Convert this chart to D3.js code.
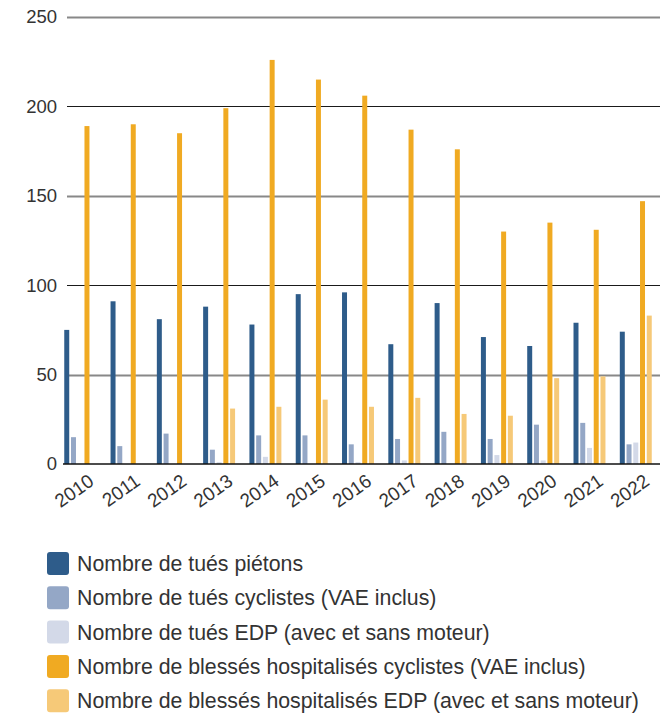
<!DOCTYPE html>
<html>
<head>
<meta charset="utf-8">
<script src="https://cdn.jsdelivr.net/npm/d3@7"></script>
<style>
  body { margin: 0; background: #fff; }
  svg text { font-family: "Liberation Sans", Arial, sans-serif; fill: #333; }
</style>
</head>
<body>
<svg></svg>
<script>
var WIDTH = 670;
var HEIGHT = 713;

// data
var years = ['2010','2011','2012','2013','2014','2015','2016','2017','2018','2019','2020','2021','2022'];
var tuesPietons   = [75, 91, 81, 88, 78, 95, 96, 67, 90, 71, 66, 79, 74];
var tuesCyclistes = [15, 10, 17, 8, 16, 16, 11, 14, 18, 14, 22, 23, 11];
var tuesEDP       = [0, 0, 0, 1, 4, 0, 1, 2, 0, 5, 2, 9, 12];
var blessesCyclistes = [189, 190, 185, 199, 226, 215, 206, 187, 176, 130, 135, 131, 147];
var blessesEDP    = [0, 0, 0, 31, 32, 36, 32, 37, 28, 27, 48, 49, 83];
var yTicks = [0, 50, 100, 150, 200, 250];

var seriesNames = [
  'Nombre de tués piétons',
  'Nombre de tués cyclistes (VAE inclus)',
  'Nombre de tués EDP (avec et sans moteur)',
  'Nombre de blessés hospitalisés cyclistes (VAE inclus)',
  'Nombre de blessés hospitalisés EDP (avec et sans moteur)'
];
var seriesColors = ['#2e5c8a', '#94a7c6', '#d3d9e8', '#f0aa22', '#f6c978'];
var seriesValues = [tuesPietons, tuesCyclistes, tuesEDP, blessesCyclistes, blessesEDP];

var svg = d3.select('svg')
  .attr('width', WIDTH)
  .attr('height', HEIGHT);

var yScale = d3.scaleLinear().domain([0, 250]).range([464, 17]);
var xScale = d3.scaleBand().domain(years).range([58, 658])
  .paddingInner(0.31).paddingOuter(0.135);
var x1 = d3.scaleBand().domain(d3.range(seriesNames.length))
  .range([0, xScale.bandwidth()]).paddingInner(0.26);

// grid lines
var grid = svg.append('g').attr('id', 'grid');
grid.selectAll('line')
  .data(yTicks.filter(function(d){ return d > 0; }))
  .enter()
  .append('line')
  .attr('x1', 67)
  .attr('x2', 660)
  .attr('y1', function(d){ return Math.round(yScale(d)) + 0.5; })
  .attr('y2', function(d){ return Math.round(yScale(d)) + 0.5; })
  .attr('stroke', function(d){ return (d / 50) % 2 === 1 ? '#888' : '#1a1a1a'; })
  .attr('stroke-width', function(d){ return (d / 50) % 2 === 1 ? 2 : 1; });

// y axis labels
var leftAxis = d3.axisLeft(yScale).tickValues(yTicks).tickSize(0).tickPadding(0);
var yAxis = svg.append('g')
  .attr('id', 'y-axis')
  .attr('transform', 'translate(57,0)')
  .call(leftAxis);
yAxis.select('.domain').remove();
yAxis.selectAll('text')
  .style('font-size', '18.5px')
  .attr('fill', '#333');

// bars
var groups = svg.append('g').attr('id', 'bars')
  .selectAll('g')
  .data(years)
  .enter()
  .append('g')
  .attr('transform', function(d){ return 'translate(' + xScale(d) + ',0)'; });

groups.selectAll('rect')
  .data(function(d, i){
    return seriesValues.map(function(vals, s){ return { s: s, v: vals[i] }; });
  })
  .enter()
  .append('rect')
  .attr('x', function(d){ return x1(d.s); })
  .attr('width', x1.bandwidth())
  .attr('y', function(d){ return yScale(d.v); })
  .attr('height', function(d){ return yScale(0) - yScale(d.v); })
  .attr('fill', function(d){ return seriesColors[d.s]; });

// baseline
svg.append('line')
  .attr('x1', 63).attr('x2', 660)
  .attr('y1', yScale(0)).attr('y2', yScale(0))
  .attr('stroke', '#111')
  .attr('stroke-width', 1.5);

// x axis labels
var botAxis = d3.axisBottom(xScale).tickSize(0);
var xAxis = svg.append('g')
  .attr('id', 'x-axis')
  .attr('transform', 'translate(0,' + yScale(0) + ')')
  .call(botAxis);
xAxis.select('.domain').remove();
xAxis.selectAll('text')
  .style('font-size', '19px')
  .attr('fill', '#333')
  .attr('text-anchor', 'end')
  .attr('y', 0)
  .attr('dy', 0)
  .attr('transform', 'translate(15,20) rotate(-35)');

// legend
var legend = svg.append('g').attr('id', 'legend')
  .attr('transform', 'translate(47,552)');
var items = legend.selectAll('g')
  .data(seriesNames)
  .enter()
  .append('g')
  .attr('transform', function(d, i){ return 'translate(0,' + (i * 34.3) + ')'; });
items.append('rect')
  .attr('width', 22)
  .attr('height', 23)
  .attr('rx', 3)
  .attr('fill', function(d, i){ return seriesColors[i]; });
items.append('text')
  .attr('x', 30)
  .attr('y', 19)
  .style('font-size', '21.3px')
  .attr('fill', '#111')
  .text(function(d){ return d; });
</script>
</body>
</html>
